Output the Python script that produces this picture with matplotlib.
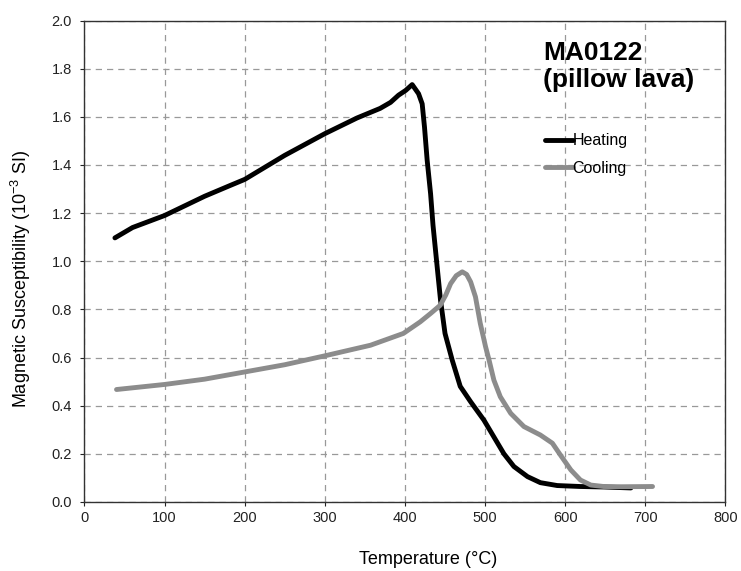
"""Magnetic susceptibility vs temperature, MA0122 pillow lava."""

import matplotlib

matplotlib.use("Agg")
import matplotlib.pyplot as plt

plt.rcParams["font.family"] = ["Liberation Sans", "DejaVu Sans"]
plt.rcParams["mathtext.fontset"] = "custom"
plt.rcParams["mathtext.rm"] = "Liberation Sans"
plt.rcParams["mathtext.it"] = "Liberation Sans"

# heating run (black)
heat_t = [38, 60, 100, 150, 182, 200, 250, 300, 340, 369, 382, 392, 401, 409,
          417, 421.5, 424.4, 427.7, 432, 435, 438, 441, 444.4, 450, 459, 469,
          482, 498.5, 511, 523.5, 536, 553, 569, 590, 619, 648, 682]
heat_k = [1.097, 1.14, 1.19, 1.27, 1.315, 1.34, 1.44, 1.53, 1.595, 1.635, 1.66,
          1.69, 1.71, 1.734, 1.696, 1.654, 1.557, 1.42, 1.28, 1.15, 1.05, 0.95,
          0.838, 0.70, 0.589, 0.48, 0.416, 0.34, 0.27, 0.20, 0.147, 0.105,
          0.08, 0.068, 0.064, 0.062, 0.058]

# cooling run (grey)
cool_t = [40, 100, 150, 200, 250, 300, 357, 398, 419, 432, 444, 451, 457, 464,
          471.5, 477, 482, 488, 494, 500.6, 505, 511, 519, 532, 548.5, 569,
          584, 594, 607, 619, 632, 648, 670, 709]
cool_k = [0.467, 0.488, 0.51, 0.54, 0.57, 0.607, 0.651, 0.70, 0.748, 0.783,
          0.817, 0.86, 0.907, 0.94, 0.956, 0.945, 0.914, 0.852, 0.742, 0.645,
          0.589, 0.506, 0.437, 0.368, 0.313, 0.278, 0.244, 0.195, 0.133,
          0.091, 0.07, 0.064, 0.063, 0.064]

fig = plt.figure(figsize=(7.41, 5.71), dpi=100)
ax = fig.add_axes([0.114, 0.121, 0.865, 0.843])

ax.plot(heat_t, heat_k, color="black", lw=3.5, solid_capstyle="round",
        solid_joinstyle="round", label="Heating", zorder=3)
ax.plot(cool_t, cool_k, color="#8c8c8c", lw=3.5, solid_capstyle="round",
        solid_joinstyle="round", label="Cooling", zorder=4)

ax.set_xlim(0, 800)
ax.set_ylim(0, 2.0)
ax.set_xticks(range(0, 801, 100))
ax.set_yticks([i / 10 for i in range(0, 21, 2)])
ax.yaxis.set_major_formatter(plt.FormatStrFormatter("%.1f"))
ax.tick_params(labelsize=10.5, length=3, width=0.8, colors="#222222")
ax.tick_params(axis="y", pad=6)
ax.grid(True, color="#999999", linestyle=(0, (5, 4)), linewidth=0.9)
ax.set_axisbelow(True)
for side in ax.spines.values():
    side.set_color("#333333")
    side.set_linewidth(1.0)

ax.set_xlabel("Temperature (°C)", fontsize=13, va="center")
ax.xaxis.set_label_coords(0.536, -0.12)
ax.set_ylabel(r"Magnetic Susceptibility (10$^{-3}$ SI)", fontsize=13,
              va="center")
ax.yaxis.set_label_coords(-0.099, 0.463)

ax.text(0.716, 0.957, "MA0122\n(pillow lava)", transform=ax.transAxes,
        fontsize=19, fontweight="bold", va="top", ha="left",
        linespacing=1.17)

ax.legend(loc="upper left", bbox_to_anchor=(0.718, 0.766), frameon=False,
          fontsize=11.5, handlelength=1.75, handletextpad=0.0,
          labelspacing=0.78, borderaxespad=0, borderpad=0)

fig.savefig("out.png", dpi=100)
